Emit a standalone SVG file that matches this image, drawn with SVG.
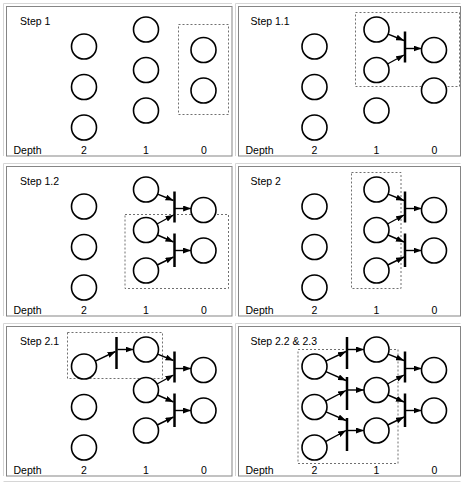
<svg xmlns="http://www.w3.org/2000/svg" width="462" height="485" viewBox="0 0 462 485">
<defs>
<marker id="ah" markerWidth="8" markerHeight="6" refX="8" refY="3" orient="auto" markerUnits="userSpaceOnUse"><path d="M0,0 L8,3 L0,6 z" fill="#000"/></marker>
</defs>
<style>
.frame{fill:#fff;stroke:#858585;stroke-width:1}
.shade{fill:none;stroke:#d6d6d6;stroke-width:1}
.node{fill:#fff;stroke:#000;stroke-width:1.6}
.bar{stroke:#000;stroke-width:2.5}
.arr{stroke:#000;stroke-width:1.4;fill:none;marker-end:url(#ah)}
.sel{fill:none;stroke:#707070;stroke-width:1;stroke-dasharray:2,2}
text{font-family:"Liberation Sans",Arial,sans-serif;font-size:10.5px;fill:#000}
.mid{text-anchor:middle}
</style>
<rect width="462" height="485" fill="#fff"/>
<g id="frames">
<path class="shade" d="M3.5,156 V3.5 H232"/>
<path class="shade" d="M235.5,156 V3.5 H460.5"/>
<path class="shade" d="M3.5,316 V163.5 H232"/>
<path class="shade" d="M235.5,316 V163.5 H460.5"/>
<path class="shade" d="M3.5,476 V323.5 H232"/>
<path class="shade" d="M235.5,476 V323.5 H460.5"/>
<path class="shade" d="M3.5,481.5 H460.5"/>
<rect class="frame" x="6.5" y="6.5" width="225.5" height="149.5"/>
<rect class="frame" x="238.5" y="6.5" width="222" height="149.5"/>
<rect class="frame" x="6.5" y="166.5" width="225.5" height="149.5"/>
<rect class="frame" x="238.5" y="166.5" width="222" height="149.5"/>
<rect class="frame" x="6.5" y="326.5" width="225.5" height="149.5"/>
<rect class="frame" x="238.5" y="326.5" width="222" height="149.5"/>
</g>

<!-- Panel 1 -->
<g id="panel-step1">
<rect class="sel" x="178.5" y="24.5" width="50" height="90"/>
<text x="20" y="24.5">Step 1</text>
<text x="13.5" y="154">Depth</text>
<text class="mid" x="84" y="154">2</text>
<text class="mid" x="146" y="154">1</text>
<text class="mid" x="204" y="154">0</text>
<g id="s1-a2"><circle class="node" cx="84" cy="46.5" r="12.5"/></g>
<g id="s1-b2"><circle class="node" cx="84" cy="87" r="12.5"/></g>
<g id="s1-c2"><circle class="node" cx="84" cy="127.5" r="12.5"/></g>
<g id="s1-a1"><circle class="node" cx="146" cy="29.5" r="12.5"/></g>
<g id="s1-b1"><circle class="node" cx="146" cy="70" r="12.5"/></g>
<g id="s1-c1"><circle class="node" cx="146" cy="110.5" r="12.5"/></g>
<g id="s1-a0"><circle class="node" cx="203.5" cy="50" r="12.5"/></g>
<g id="s1-b0"><circle class="node" cx="203.5" cy="90.5" r="12.5"/></g>
</g>

<!-- Panel 2 -->
<g id="panel-step1-1" transform="translate(230.5,0)">
<rect class="sel" x="125" y="12.5" width="104" height="74"/>
<text x="20" y="24.5">Step 1.1</text>
<text x="15" y="154">Depth</text>
<text class="mid" x="84" y="154">2</text>
<text class="mid" x="146" y="154">1</text>
<text class="mid" x="204" y="154">0</text>
<g id="s11-connectors">
<line class="bar" x1="174.5" y1="31.5" x2="174.5" y2="62.5"/>
<path class="arr" d="M157.6,34.1 L173.5,40.5"/>
<path class="arr" d="M157,64 L173.5,55"/>
<path class="arr" d="M175,48.5 L191.1,48.5"/>
</g>
<g id="s11-a2"><circle class="node" cx="84" cy="46.5" r="12.5"/></g>
<g id="s11-b2"><circle class="node" cx="84" cy="87" r="12.5"/></g>
<g id="s11-c2"><circle class="node" cx="84" cy="127.5" r="12.5"/></g>
<g id="s11-a1"><circle class="node" cx="146" cy="29.5" r="12.5"/></g>
<g id="s11-b1"><circle class="node" cx="146" cy="70" r="12.5"/></g>
<g id="s11-c1"><circle class="node" cx="146" cy="110.5" r="12.5"/></g>
<g id="s11-a0"><circle class="node" cx="203.5" cy="50" r="12.5"/></g>
<g id="s11-b0"><circle class="node" cx="203.5" cy="90.5" r="12.5"/></g>
</g>

<!-- Panel 3 -->
<g id="panel-step1-2" transform="translate(0,160)">
<rect class="sel" x="125" y="54.5" width="103.5" height="74"/>
<text x="20" y="24.5">Step 1.2</text>
<text x="13.5" y="154">Depth</text>
<text class="mid" x="84" y="154">2</text>
<text class="mid" x="146" y="154">1</text>
<text class="mid" x="204" y="154">0</text>
<g id="s12-connectors">
<line class="bar" x1="174.5" y1="31.5" x2="174.5" y2="62.5"/>
<line class="bar" x1="174.5" y1="73.5" x2="174.5" y2="107"/>
<path class="arr" d="M157.6,34.1 L173.5,40.5"/>
<path class="arr" d="M157,64 L173.5,55"/>
<path class="arr" d="M157.5,75 L173.5,82"/>
<path class="arr" d="M157.2,105 L173.5,97"/>
<path class="arr" d="M175,48.5 L191.1,48.5"/>
<path class="arr" d="M175,90.5 L191,90.5"/>
</g>
<g id="s12-a2"><circle class="node" cx="84" cy="46.5" r="12.5"/></g>
<g id="s12-b2"><circle class="node" cx="84" cy="87" r="12.5"/></g>
<g id="s12-c2"><circle class="node" cx="84" cy="127.5" r="12.5"/></g>
<g id="s12-a1"><circle class="node" cx="146" cy="29.5" r="12.5"/></g>
<g id="s12-b1"><circle class="node" cx="146" cy="70" r="12.5"/></g>
<g id="s12-c1"><circle class="node" cx="146" cy="110.5" r="12.5"/></g>
<g id="s12-a0"><circle class="node" cx="203.5" cy="50" r="12.5"/></g>
<g id="s12-b0"><circle class="node" cx="203.5" cy="90.5" r="12.5"/></g>
</g>

<!-- Panel 4 -->
<g id="panel-step2" transform="translate(230.5,160)">
<rect class="sel" x="121" y="12.5" width="49.5" height="116"/>
<text x="20" y="24.5">Step 2</text>
<text x="15" y="154">Depth</text>
<text class="mid" x="84" y="154">2</text>
<text class="mid" x="146" y="154">1</text>
<text class="mid" x="204" y="154">0</text>
<g id="s2-connectors">
<line class="bar" x1="174.5" y1="31.5" x2="174.5" y2="62.5"/>
<line class="bar" x1="174.5" y1="73.5" x2="174.5" y2="107"/>
<path class="arr" d="M157.6,34.1 L173.5,40.5"/>
<path class="arr" d="M157,64 L173.5,55"/>
<path class="arr" d="M157.5,75 L173.5,82"/>
<path class="arr" d="M157.2,105 L173.5,97"/>
<path class="arr" d="M175,48.5 L191.1,48.5"/>
<path class="arr" d="M175,90.5 L191,90.5"/>
</g>
<g id="s2-a2"><circle class="node" cx="84" cy="46.5" r="12.5"/></g>
<g id="s2-b2"><circle class="node" cx="84" cy="87" r="12.5"/></g>
<g id="s2-c2"><circle class="node" cx="84" cy="127.5" r="12.5"/></g>
<g id="s2-a1"><circle class="node" cx="146" cy="29.5" r="12.5"/></g>
<g id="s2-b1"><circle class="node" cx="146" cy="70" r="12.5"/></g>
<g id="s2-c1"><circle class="node" cx="146" cy="110.5" r="12.5"/></g>
<g id="s2-a0"><circle class="node" cx="203.5" cy="50" r="12.5"/></g>
<g id="s2-b0"><circle class="node" cx="203.5" cy="90.5" r="12.5"/></g>
</g>

<!-- Panel 5 -->
<g id="panel-step2-1" transform="translate(0,320)">
<rect class="sel" x="67.5" y="12.5" width="95" height="46"/>
<text x="20" y="24.5">Step 2.1</text>
<text x="13.5" y="154">Depth</text>
<text class="mid" x="84" y="154">2</text>
<text class="mid" x="146" y="154">1</text>
<text class="mid" x="204" y="154">0</text>
<g id="s21-connectors">
<line class="bar" x1="116.5" y1="17" x2="116.5" y2="49"/>
<line class="bar" x1="174.5" y1="31.5" x2="174.5" y2="62.5"/>
<line class="bar" x1="174.5" y1="73.5" x2="174.5" y2="107"/>
<path class="arr" d="M95.3,41.1 L115.5,31.5"/>
<path class="arr" d="M117.5,29.5 L133.5,29.5"/>
<path class="arr" d="M157.6,34.1 L173.5,40.5"/>
<path class="arr" d="M157,64 L173.5,55"/>
<path class="arr" d="M157.5,75 L173.5,82"/>
<path class="arr" d="M157.2,105 L173.5,97"/>
<path class="arr" d="M175,48.5 L191.1,48.5"/>
<path class="arr" d="M175,90.5 L191,90.5"/>
</g>
<g id="s21-a2"><circle class="node" cx="84" cy="46.5" r="12.5"/></g>
<g id="s21-b2"><circle class="node" cx="84" cy="87" r="12.5"/></g>
<g id="s21-c2"><circle class="node" cx="84" cy="127.5" r="12.5"/></g>
<g id="s21-a1"><circle class="node" cx="146" cy="29.5" r="12.5"/></g>
<g id="s21-b1"><circle class="node" cx="146" cy="70" r="12.5"/></g>
<g id="s21-c1"><circle class="node" cx="146" cy="110.5" r="12.5"/></g>
<g id="s21-a0"><circle class="node" cx="203.5" cy="50" r="12.5"/></g>
<g id="s21-b0"><circle class="node" cx="203.5" cy="90.5" r="12.5"/></g>
</g>

<!-- Panel 6 -->
<g id="panel-step2-2" transform="translate(230.5,320)">
<rect class="sel" x="67.5" y="29.5" width="100" height="114"/>
<text x="20" y="24.5">Step 2.2 &amp; 2.3</text>
<text x="15" y="154">Depth</text>
<text class="mid" x="84" y="154">2</text>
<text class="mid" x="146" y="154">1</text>
<text class="mid" x="204" y="154">0</text>
<g id="s22-connectors">
<line class="bar" x1="116.5" y1="17" x2="116.5" y2="49"/>
<line class="bar" x1="116.5" y1="57" x2="116.5" y2="90"/>
<line class="bar" x1="116.5" y1="98" x2="116.5" y2="131"/>
<line class="bar" x1="174.5" y1="31.5" x2="174.5" y2="62.5"/>
<line class="bar" x1="174.5" y1="73.5" x2="174.5" y2="107"/>
<path class="arr" d="M95.3,41.1 L115.5,31.5"/>
<path class="arr" d="M95.4,51.6 L115.5,60.5"/>
<path class="arr" d="M95.1,81.2 L115.5,70.5"/>
<path class="arr" d="M95.5,91.9 L115.5,100.5"/>
<path class="arr" d="M95,121.6 L115.5,110.5"/>
<path class="arr" d="M117.5,29.5 L133.5,29.5"/>
<path class="arr" d="M117.5,70 L133.5,70"/>
<path class="arr" d="M117.5,110.5 L133.5,110.5"/>
<path class="arr" d="M157.6,34.1 L173.5,40.5"/>
<path class="arr" d="M157,64 L173.5,55"/>
<path class="arr" d="M157.5,75 L173.5,82"/>
<path class="arr" d="M157.2,105 L173.5,97"/>
<path class="arr" d="M175,48.5 L191.1,48.5"/>
<path class="arr" d="M175,90.5 L191,90.5"/>
</g>
<g id="s22-a2"><circle class="node" cx="84" cy="46.5" r="12.5"/></g>
<g id="s22-b2"><circle class="node" cx="84" cy="87" r="12.5"/></g>
<g id="s22-c2"><circle class="node" cx="84" cy="127.5" r="12.5"/></g>
<g id="s22-a1"><circle class="node" cx="146" cy="29.5" r="12.5"/></g>
<g id="s22-b1"><circle class="node" cx="146" cy="70" r="12.5"/></g>
<g id="s22-c1"><circle class="node" cx="146" cy="110.5" r="12.5"/></g>
<g id="s22-a0"><circle class="node" cx="203.5" cy="50" r="12.5"/></g>
<g id="s22-b0"><circle class="node" cx="203.5" cy="90.5" r="12.5"/></g>
</g>
</svg>
